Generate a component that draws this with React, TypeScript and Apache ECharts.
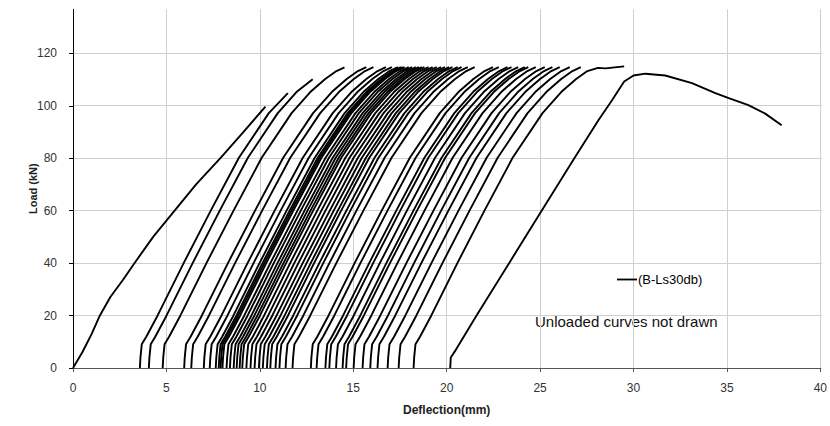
import React, { useEffect, useRef } from "react";
import * as echarts from "echarts";

// Monotonic first loading curve (deflection mm, load kN)
const firstCurve: [number, number][] = [
  [0, 0], [0.5, 6], [1, 13], [1.44, 20], [2, 27], [2.67, 33.5], [3.26, 39.6],
  [4.3, 50], [5.45, 60], [6.6, 70], [7.9, 80], [9, 88.8], [10.3, 99.5],
];

// Reloading curves: residual deflection at start, deflection & load at their top
const reloadStart = [
  3.58, 4.06, 4.8, 5.95, 6.33, 7.0, 7.32, 7.64, 7.8, 7.9, 8.0, 8.22, 8.4, 8.6,
  8.76, 8.92, 9.06, 9.28, 9.5, 9.72, 9.95, 10.16, 10.38, 10.56, 10.84, 11.05,
  11.38, 11.75, 12.73, 13.04, 13.51, 13.72, 14.08, 14.43, 14.62, 15.02, 15.5,
  15.91, 16.3, 16.84, 17.43, 18.23,
];
const reloadPeakX = [
  11.5, 12.83, 14.53, 15.7, 16.08, 16.75, 17.07, 17.39, 17.55, 17.65, 17.75,
  17.97, 18.15, 18.35, 18.51, 18.67, 18.81, 19.03, 19.25, 19.47, 19.7, 19.91,
  20.13, 20.31, 20.59, 20.8, 21.13, 21.5, 22.48, 22.79, 23.26, 23.47, 23.83,
  24.18, 24.37, 24.77, 25.25, 25.66, 26.05, 26.59, 27.18, 28.1,
];
const reloadPeakLoad = [
  104.6, 109.9, 114.4, 114.5, 114.5, 114.5, 114.5, 114.5, 114.5, 114.5, 114.5,
  114.5, 114.5, 114.5, 114.5, 114.5, 114.5, 114.5, 114.5, 114.5, 114.5, 114.5,
  114.5, 114.5, 114.5, 114.5, 114.5, 114.5, 114.5, 114.5, 114.5, 114.5, 114.5,
  114.5, 114.5, 114.5, 114.5, 114.5, 114.5, 114.5, 114.5, 114.2,
];
// Shape of a reloading branch (offset from start, load)
const reloadShapeOffset = [0, 0.03, 0.1, 0.35, 0.95, 2.35, 3.8, 5.3, 6.9, 7.9, 8.7, 9.3];
const reloadShapeLoad = [0, 4, 9, 12, 20, 40, 60, 80, 97, 105, 110, 113];
// plateau at the top of the penultimate curve
const penultimateTail: [number, number][] = [[28.5, 114.0], [29.0, 114.4], [29.5, 114.8]];

// Final reloading curve up to failure
const lastCurve: [number, number][] = [
  [20.19, 0], [20.22, 4], [20.5, 7], [21.6, 20], [23.35, 40], [25.1, 60],
  [26.85, 80], [28.14, 94.5], [28.86, 102], [29.5, 109], [30.0, 111.3],
  [30.64, 112], [31.7, 111.3], [33.13, 108.4], [34.38, 104.6], [35.1, 102.7],
  [36.15, 100], [37.05, 96.8], [37.93, 92.4],
];

const xTicks = [0, 5, 10, 15, 20, 25, 30, 35, 40];
const yTicks = [0, 20, 40, 60, 80, 100, 120];
const seriesName = "(B-Ls30db)";

function buildCurves(): [number, number][][] {
  const curves: [number, number][][] = [firstCurve];
  reloadStart.forEach((s, i) => {
    const pts: [number, number][] = [];
    for (let k = 0; k < reloadShapeOffset.length; k++) {
      if (reloadShapeLoad[k] < reloadPeakLoad[i] - 0.5 && s + reloadShapeOffset[k] < reloadPeakX[i]) {
        pts.push([s + reloadShapeOffset[k], reloadShapeLoad[k]]);
      }
    }
    pts.push([reloadPeakX[i], reloadPeakLoad[i]]);
    if (i === reloadStart.length - 1) pts.push(...penultimateTail);
    curves.push(pts);
  });
  curves.push(lastCurve);
  return curves;
}

export default function App() {
  const ref = useRef<HTMLDivElement>(null);
  useEffect(() => {
    if (!ref.current) return;
    const chart = echarts.init(ref.current, undefined, { renderer: "svg" });
    const font = "'Liberation Sans', Arial, sans-serif";
    const curves = buildCurves();
    const gridPos = { left: 73, right: 8, bottom: 58 };
    chart.setOption({
      animation: false,
      backgroundColor: "#ffffff",
      grid: [
        { ...gridPos, top: 9.3 },
        { ...gridPos, top: 53.3 },
      ],
      legend: {
        data: [{ name: seriesName, icon: "rect" }],
        left: 617,
        top: 273,
        padding: 0,
        itemWidth: 20,
        itemHeight: 1.8,
        textStyle: { fontFamily: font, fontSize: 13, color: "#000", padding: [0, 0, 0, -4] },
      },
      graphic: [
        {
          type: "text",
          left: 535,
          top: 314,
          style: {
            text: "Unloaded curves not drawn",
            fontFamily: font,
            fontSize: 15,
            fill: "#111",
          },
        },
      ],
      xAxis: [
        {
          gridIndex: 0,
          type: "value",
          min: xTicks[0],
          max: xTicks[xTicks.length - 1],
          interval: 5,
          name: "Deflection(mm)",
          nameLocation: "middle",
          nameGap: 36,
          nameTextStyle: { fontFamily: font, fontSize: 12, fontWeight: "bold", color: "#222" },
          axisLine: { lineStyle: { color: "#555", width: 1 } },
          axisTick: { show: true, inside: false, length: 4, lineStyle: { color: "#555" } },
          axisLabel: { margin: 14, fontFamily: font, fontSize: 12, color: "#333" },
          splitLine: { show: true, lineStyle: { color: "#cfcfcf", width: 1 } },
        },
        {
          gridIndex: 1,
          type: "value",
          min: 0,
          max: 40,
          show: false,
        },
      ],
      yAxis: [
        {
          gridIndex: 0,
          type: "value",
          min: 0,
          max: 136.5,
          name: "Load (kN)",
          nameLocation: "middle",
          nameGap: 35,
          nameTextStyle: { fontFamily: font, fontSize: 11, fontWeight: "bold", color: "#222" },
          axisLine: { show: true, lineStyle: { color: "#000", width: 1 } },
          axisTick: { show: false },
          axisLabel: { show: false },
          splitLine: { show: false },
        },
        {
          gridIndex: 1,
          type: "value",
          min: yTicks[0],
          max: yTicks[yTicks.length - 1],
          interval: 20,
          axisLine: { show: false },
          axisTick: { show: true, length: 4, lineStyle: { color: "#000" } },
          axisLabel: { margin: 16, fontFamily: font, fontSize: 12, color: "#333" },
          splitLine: { show: true, lineStyle: { color: "#cfcfcf", width: 1 } },
        },
      ],
      series: curves.map((c) => ({
        name: seriesName,
        type: "line",
        xAxisIndex: 0,
        yAxisIndex: 0,
        data: c,
        showSymbol: false,
        symbol: "none",
        lineStyle: { color: "#000", width: 1.9 },
        itemStyle: { color: "#000" },
        z: 3,
      })),
    });
    return () => chart.dispose();
  }, []);
  return (
    <div
      ref={ref}
      style={{ position: "fixed", left: 0, top: 0, width: 830, height: 426 }}
    />
  );
}
